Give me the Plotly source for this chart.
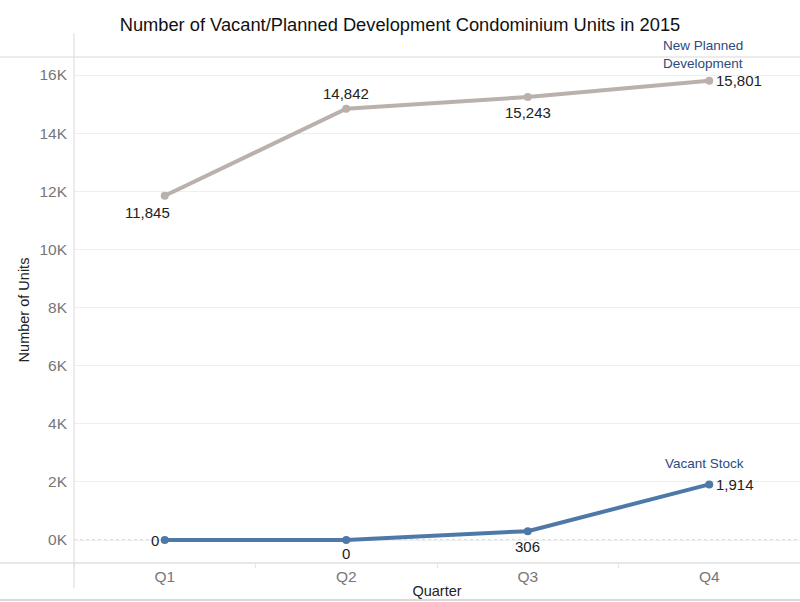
import plotly.graph_objects as go

quarters = ["Q1", "Q2", "Q3", "Q4"]
planned = [11845, 14842, 15243, 15801]
vacant = [0, 0, 306, 1914]
ytick_vals = [0, 2000, 4000, 6000, 8000, 10000, 12000, 14000, 16000]
ytick_text = ["0K", "2K", "4K", "6K", "8K", "10K", "12K", "14K", "16K"]

FONT = "Liberation Sans, Arial, sans-serif"
fig = go.Figure()

fig.add_trace(go.Scatter(
    x=quarters, y=planned, mode="lines+markers",
    line=dict(color="#bab0ac", width=4), marker=dict(size=8, color="#bab0ac"),
    cliponaxis=False, showlegend=False, hoverinfo="skip"))

fig.add_trace(go.Scatter(
    x=quarters, y=vacant, mode="lines+markers",
    line=dict(color="#4e79a7", width=4), marker=dict(size=8, color="#4e79a7"),
    cliponaxis=False, showlegend=False, hoverinfo="skip"))

# data labels: (xanchor, xshift, yshift) per point
planned_lbl = [("center", -17, -17), ("center", 0, 15), ("center", 0, -15), ("left", 5, 0)]
vacant_lbl = [("right", -4, 0), ("center", 0, -13), ("center", 0, -15), ("left", 5, 0)]
for series, lbl in ((planned, planned_lbl), (vacant, vacant_lbl)):
    for q, v, (xa, xs, ys) in zip(quarters, series, lbl):
        fig.add_annotation(x=q, y=v, text=f"{v:,}", showarrow=False, xanchor=xa, yanchor="middle",
                           xshift=xs, yshift=ys, font=dict(size=15, color="#222", family=FONT))

fig.add_annotation(x="Q4", y=1.004, yref="paper", yanchor="middle", text="New Planned<br>Development",
                   showarrow=False, xshift=-6, font=dict(size=13.5, color="#2b4a7e", family=FONT),
                   align="left")
fig.add_annotation(x="Q4", y=2650, yanchor="middle", text="Vacant Stock",
                   showarrow=False, xshift=-5, font=dict(size=13.5, color="#2b4a7e", family=FONT))

# frame lines
fig.add_shape(type="line", xref="paper", yref="paper", x0=-0.102, x1=1, y0=1, y1=1,
              line=dict(color="#d9d9d9", width=1))
fig.add_shape(type="line", xref="paper", yref="paper", x0=-0.102, x1=1, y0=0, y1=0,
              line=dict(color="#cfcfcf", width=1))
fig.add_shape(type="line", xref="paper", yref="paper", x0=-0.102, x1=1, y0=-0.073, y1=-0.073,
              line=dict(color="#d9d9d9", width=2))
fig.add_shape(type="line", xref="paper", yref="paper", x0=0, x1=0, y0=-0.05, y1=1.047,
              line=dict(color="#d9d9d9", width=1))
# dotted zero line
fig.add_shape(type="line", xref="paper", yref="y", x0=0, x1=1, y0=0, y1=0,
              line=dict(color="#bbbbbb", width=1, dash="dot"), layer="below")

fig.update_layout(
    width=800, height=602,
    margin=dict(l=74, r=0, t=57, b=39, autoexpand=False),
    paper_bgcolor="white", plot_bgcolor="white",
    font=dict(family=FONT),
    title=dict(text="Number of Vacant/Planned Development Condominium Units in 2015",
               x=0.5, xref="container", y=1 - 25 / 602, yref="container", yanchor="middle",
               font=dict(size=18.3, color="#111", family=FONT)),
    xaxis=dict(range=[-0.5, 3.5], showgrid=False, zeroline=False, showline=False,
               automargin=False,
               ticks="outside", tickson="boundaries", ticklen=4, tickcolor="#e6e6e6",
               ticklabelstandoff=2,
               tickfont=dict(size=15.5, color="#777"),
               title=dict(text="Quarter", font=dict(size=14.5, color="#222"), standoff=2)),
    yaxis=dict(range=[-790, 16620], tickvals=ytick_vals, ticktext=ytick_text,
               automargin=False, ticklabelstandoff=6,
               showgrid=True, gridcolor="#efefef", zeroline=False, showline=False, ticks="",
               tickfont=dict(size=15.5, color="#777"),
               title=dict(text="Number of Units", font=dict(size=14.5, color="#222"), standoff=6)),
)

fig.write_html("out.html", config={"displayModeBar": False},
               post_script="document.body.style.margin='0';document.body.style.overflow='hidden';")
